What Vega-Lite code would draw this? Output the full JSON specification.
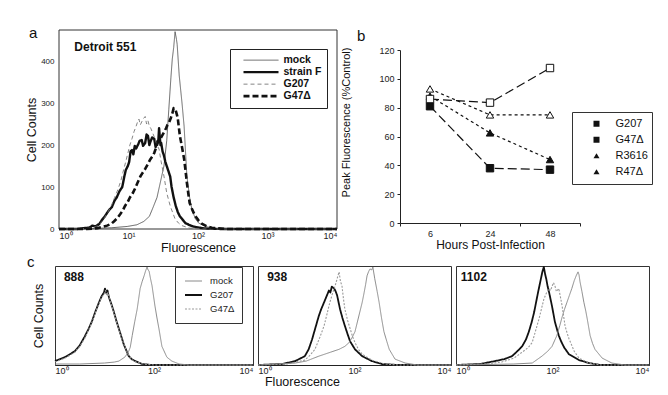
{
  "$schema": "https://vega.github.io/schema/vega-lite/v6.json",
  "autosize": {"type": "pad"},
  "padding": {"left": 25, "top": 25, "right": 0, "bottom": 0},
  "background": "white",
  "spacing": 0,
  "config": {
    "font": "Liberation Sans",
    "view": {"stroke": "#333", "strokeWidth": 1},
    "axis": {"grid": false, "domainColor": "#222", "tickColor": "#222", "labelColor": "#222", "titleColor": "#111", "titleFontWeight": "normal", "labelFont": "Liberation Sans", "titleFont": "Liberation Sans"},
    "title": {"fontWeight": "normal", "font": "Liberation Sans", "color": "#111"},
    "legend": {"labelFont": "Liberation Sans"}
  },
  "datasets": {
    "histA": [
      {"series":"mock","logF":0,"count":0},{"series":"mock","logF":0.47,"count":1},{"series":"mock","logF":0.76,"count":3},{"series":"mock","logF":0.98,"count":6},{"series":"mock","logF":1.12,"count":10},{"series":"mock","logF":1.22,"count":18},{"series":"mock","logF":1.30,"count":30},{"series":"mock","logF":1.35,"count":50},{"series":"mock","logF":1.41,"count":75},{"series":"mock","logF":1.47,"count":120},{"series":"mock","logF":1.51,"count":150},{"series":"mock","logF":1.55,"count":210},{"series":"mock","logF":1.58,"count":285},{"series":"mock","logF":1.61,"count":360},{"series":"mock","logF":1.63,"count":405},{"series":"mock","logF":1.65,"count":432},{"series":"mock","logF":1.67,"count":470},{"series":"mock","logF":1.69,"count":452},{"series":"mock","logF":1.70,"count":440},{"series":"mock","logF":1.73,"count":365},{"series":"mock","logF":1.77,"count":300},{"series":"mock","logF":1.80,"count":245},{"series":"mock","logF":1.84,"count":126},{"series":"mock","logF":1.88,"count":75},{"series":"mock","logF":1.91,"count":48},{"series":"mock","logF":1.96,"count":25},{"series":"mock","logF":2.01,"count":14},{"series":"mock","logF":2.13,"count":5},{"series":"mock","logF":2.27,"count":1},{"series":"mock","logF":2.5,"count":0},{"series":"mock","logF":4,"count":0},
      {"series":"strain F","logF":0,"count":0},{"series":"strain F","logF":0.26,"count":0},{"series":"strain F","logF":0.35,"count":2},{"series":"strain F","logF":0.43,"count":3},{"series":"strain F","logF":0.48,"count":8},{"series":"strain F","logF":0.52,"count":6},{"series":"strain F","logF":0.58,"count":12},{"series":"strain F","logF":0.62,"count":22},{"series":"strain F","logF":0.66,"count":30},{"series":"strain F","logF":0.69,"count":38},{"series":"strain F","logF":0.72,"count":45},{"series":"strain F","logF":0.76,"count":52},{"series":"strain F","logF":0.80,"count":68},{"series":"strain F","logF":0.83,"count":75},{"series":"strain F","logF":0.87,"count":90},{"series":"strain F","logF":0.91,"count":100},{"series":"strain F","logF":0.94,"count":125},{"series":"strain F","logF":0.96,"count":140},{"series":"strain F","logF":0.99,"count":150},{"series":"strain F","logF":1.01,"count":160},{"series":"strain F","logF":1.03,"count":185},{"series":"strain F","logF":1.05,"count":188},{"series":"strain F","logF":1.07,"count":178},{"series":"strain F","logF":1.09,"count":198},{"series":"strain F","logF":1.11,"count":192},{"series":"strain F","logF":1.14,"count":202},{"series":"strain F","logF":1.16,"count":210},{"series":"strain F","logF":1.19,"count":212},{"series":"strain F","logF":1.21,"count":198},{"series":"strain F","logF":1.24,"count":205},{"series":"strain F","logF":1.26,"count":225},{"series":"strain F","logF":1.28,"count":222},{"series":"strain F","logF":1.30,"count":200},{"series":"strain F","logF":1.32,"count":210},{"series":"strain F","logF":1.34,"count":218},{"series":"strain F","logF":1.37,"count":215},{"series":"strain F","logF":1.39,"count":195},{"series":"strain F","logF":1.41,"count":208},{"series":"strain F","logF":1.43,"count":212},{"series":"strain F","logF":1.44,"count":240},{"series":"strain F","logF":1.46,"count":200},{"series":"strain F","logF":1.47,"count":205},{"series":"strain F","logF":1.49,"count":185},{"series":"strain F","logF":1.51,"count":175},{"series":"strain F","logF":1.53,"count":160},{"series":"strain F","logF":1.55,"count":150},{"series":"strain F","logF":1.58,"count":135},{"series":"strain F","logF":1.60,"count":125},{"series":"strain F","logF":1.62,"count":100},{"series":"strain F","logF":1.65,"count":75},{"series":"strain F","logF":1.68,"count":55},{"series":"strain F","logF":1.71,"count":40},{"series":"strain F","logF":1.74,"count":30},{"series":"strain F","logF":1.78,"count":22},{"series":"strain F","logF":1.82,"count":14},{"series":"strain F","logF":1.87,"count":10},{"series":"strain F","logF":1.93,"count":6},{"series":"strain F","logF":1.99,"count":4},{"series":"strain F","logF":2.06,"count":2},{"series":"strain F","logF":2.13,"count":1},{"series":"strain F","logF":2.35,"count":0},{"series":"strain F","logF":4,"count":0},
      {"series":"G207","logF":0,"count":0},{"series":"G207","logF":0.3,"count":0},{"series":"G207","logF":0.43,"count":2},{"series":"G207","logF":0.52,"count":5},{"series":"G207","logF":0.58,"count":10},{"series":"G207","logF":0.62,"count":18},{"series":"G207","logF":0.66,"count":28},{"series":"G207","logF":0.71,"count":42},{"series":"G207","logF":0.76,"count":58},{"series":"G207","logF":0.80,"count":75},{"series":"G207","logF":0.85,"count":95},{"series":"G207","logF":0.89,"count":115},{"series":"G207","logF":0.92,"count":135},{"series":"G207","logF":0.96,"count":160},{"series":"G207","logF":0.99,"count":180},{"series":"G207","logF":1.02,"count":200},{"series":"G207","logF":1.05,"count":215},{"series":"G207","logF":1.08,"count":232},{"series":"G207","logF":1.11,"count":245},{"series":"G207","logF":1.13,"count":255},{"series":"G207","logF":1.15,"count":262},{"series":"G207","logF":1.17,"count":248},{"series":"G207","logF":1.19,"count":255},{"series":"G207","logF":1.21,"count":262},{"series":"G207","logF":1.24,"count":268},{"series":"G207","logF":1.26,"count":250},{"series":"G207","logF":1.28,"count":258},{"series":"G207","logF":1.30,"count":245},{"series":"G207","logF":1.32,"count":240},{"series":"G207","logF":1.35,"count":228},{"series":"G207","logF":1.38,"count":215},{"series":"G207","logF":1.41,"count":200},{"series":"G207","logF":1.44,"count":190},{"series":"G207","logF":1.47,"count":160},{"series":"G207","logF":1.51,"count":126},{"series":"G207","logF":1.55,"count":86},{"series":"G207","logF":1.60,"count":55},{"series":"G207","logF":1.67,"count":24},{"series":"G207","logF":1.72,"count":14},{"series":"G207","logF":1.77,"count":8},{"series":"G207","logF":1.88,"count":2},{"series":"G207","logF":2.06,"count":0},{"series":"G207","logF":4,"count":0},
      {"series":"G47Δ","logF":0,"count":0},{"series":"G47Δ","logF":0.4,"count":0},{"series":"G47Δ","logF":0.55,"count":2},{"series":"G47Δ","logF":0.62,"count":5},{"series":"G47Δ","logF":0.69,"count":8},{"series":"G47Δ","logF":0.75,"count":12},{"series":"G47Δ","logF":0.79,"count":18},{"series":"G47Δ","logF":0.84,"count":26},{"series":"G47Δ","logF":0.88,"count":35},{"series":"G47Δ","logF":0.92,"count":45},{"series":"G47Δ","logF":0.95,"count":55},{"series":"G47Δ","logF":0.99,"count":65},{"series":"G47Δ","logF":1.02,"count":75},{"series":"G47Δ","logF":1.06,"count":85},{"series":"G47Δ","logF":1.09,"count":95},{"series":"G47Δ","logF":1.13,"count":110},{"series":"G47Δ","logF":1.17,"count":125},{"series":"G47Δ","logF":1.20,"count":133},{"series":"G47Δ","logF":1.24,"count":143},{"series":"G47Δ","logF":1.28,"count":155},{"series":"G47Δ","logF":1.31,"count":165},{"series":"G47Δ","logF":1.34,"count":172},{"series":"G47Δ","logF":1.37,"count":181},{"series":"G47Δ","logF":1.40,"count":195},{"series":"G47Δ","logF":1.42,"count":205},{"series":"G47Δ","logF":1.45,"count":212},{"series":"G47Δ","logF":1.48,"count":221},{"series":"G47Δ","logF":1.51,"count":230},{"series":"G47Δ","logF":1.54,"count":240},{"series":"G47Δ","logF":1.56,"count":248},{"series":"G47Δ","logF":1.58,"count":252},{"series":"G47Δ","logF":1.61,"count":265},{"series":"G47Δ","logF":1.63,"count":275},{"series":"G47Δ","logF":1.65,"count":288},{"series":"G47Δ","logF":1.67,"count":285},{"series":"G47Δ","logF":1.68,"count":282},{"series":"G47Δ","logF":1.70,"count":270},{"series":"G47Δ","logF":1.71,"count":262},{"series":"G47Δ","logF":1.74,"count":221},{"series":"G47Δ","logF":1.77,"count":195},{"series":"G47Δ","logF":1.80,"count":167},{"series":"G47Δ","logF":1.82,"count":140},{"series":"G47Δ","logF":1.84,"count":110},{"series":"G47Δ","logF":1.86,"count":85},{"series":"G47Δ","logF":1.88,"count":62},{"series":"G47Δ","logF":1.92,"count":45},{"series":"G47Δ","logF":1.96,"count":31},{"series":"G47Δ","logF":2.01,"count":20},{"series":"G47Δ","logF":2.06,"count":12},{"series":"G47Δ","logF":2.13,"count":6},{"series":"G47Δ","logF":2.20,"count":3},{"series":"G47Δ","logF":2.42,"count":0},{"series":"G47Δ","logF":4,"count":0}
    ],
    "peak": [
      {"series":"G207","hours":6,"value":81},{"series":"G207","hours":24,"value":38},{"series":"G207","hours":48,"value":37},
      {"series":"G47Δ","hours":6,"value":86},{"series":"G47Δ","hours":24,"value":83.5},{"series":"G47Δ","hours":48,"value":107.5},
      {"series":"R3616","hours":6,"value":88},{"series":"R3616","hours":24,"value":62.5},{"series":"R3616","hours":48,"value":44},
      {"series":"R47Δ","hours":6,"value":93},{"series":"R47Δ","hours":24,"value":75},{"series":"R47Δ","hours":48,"value":75}
    ],
    "histC": [
      {"panel":"888","series":"G207","logF":0,"count":4},{"panel":"888","series":"G207","logF":0.1,"count":6},{"panel":"888","series":"G207","logF":0.2,"count":8},{"panel":"888","series":"G207","logF":0.3,"count":11},{"panel":"888","series":"G207","logF":0.4,"count":14},{"panel":"888","series":"G207","logF":0.5,"count":20},{"panel":"888","series":"G207","logF":0.6,"count":29},{"panel":"888","series":"G207","logF":0.68,"count":37},{"panel":"888","series":"G207","logF":0.75,"count":45},{"panel":"888","series":"G207","logF":0.82,"count":55},{"panel":"888","series":"G207","logF":0.89,"count":64},{"panel":"888","series":"G207","logF":0.94,"count":70},{"panel":"888","series":"G207","logF":0.99,"count":74},{"panel":"888","series":"G207","logF":1.01,"count":78},{"panel":"888","series":"G207","logF":1.04,"count":73},{"panel":"888","series":"G207","logF":1.06,"count":76},{"panel":"888","series":"G207","logF":1.09,"count":69},{"panel":"888","series":"G207","logF":1.14,"count":62},{"panel":"888","series":"G207","logF":1.19,"count":54},{"panel":"888","series":"G207","logF":1.24,"count":45},{"panel":"888","series":"G207","logF":1.29,"count":37},{"panel":"888","series":"G207","logF":1.34,"count":29},{"panel":"888","series":"G207","logF":1.39,"count":21},{"panel":"888","series":"G207","logF":1.44,"count":15},{"panel":"888","series":"G207","logF":1.49,"count":9},{"panel":"888","series":"G207","logF":1.55,"count":6},{"panel":"888","series":"G207","logF":1.62,"count":4},{"panel":"888","series":"G207","logF":1.76,"count":1},{"panel":"888","series":"G207","logF":1.96,"count":0},{"panel":"888","series":"G207","logF":4,"count":0},
      {"panel":"888","series":"G47Δ","logF":0,"count":3},{"panel":"888","series":"G47Δ","logF":0.1,"count":5},{"panel":"888","series":"G47Δ","logF":0.2,"count":7},{"panel":"888","series":"G47Δ","logF":0.3,"count":10},{"panel":"888","series":"G47Δ","logF":0.4,"count":13},{"panel":"888","series":"G47Δ","logF":0.5,"count":19},{"panel":"888","series":"G47Δ","logF":0.6,"count":27},{"panel":"888","series":"G47Δ","logF":0.68,"count":36},{"panel":"888","series":"G47Δ","logF":0.75,"count":44},{"panel":"888","series":"G47Δ","logF":0.82,"count":54},{"panel":"888","series":"G47Δ","logF":0.89,"count":63},{"panel":"888","series":"G47Δ","logF":0.94,"count":69},{"panel":"888","series":"G47Δ","logF":0.99,"count":72},{"panel":"888","series":"G47Δ","logF":1.02,"count":76},{"panel":"888","series":"G47Δ","logF":1.05,"count":71},{"panel":"888","series":"G47Δ","logF":1.07,"count":74},{"panel":"888","series":"G47Δ","logF":1.10,"count":67},{"panel":"888","series":"G47Δ","logF":1.15,"count":60},{"panel":"888","series":"G47Δ","logF":1.20,"count":52},{"panel":"888","series":"G47Δ","logF":1.25,"count":43},{"panel":"888","series":"G47Δ","logF":1.30,"count":35},{"panel":"888","series":"G47Δ","logF":1.35,"count":27},{"panel":"888","series":"G47Δ","logF":1.40,"count":20},{"panel":"888","series":"G47Δ","logF":1.45,"count":14},{"panel":"888","series":"G47Δ","logF":1.50,"count":9},{"panel":"888","series":"G47Δ","logF":1.56,"count":5},{"panel":"888","series":"G47Δ","logF":1.64,"count":3},{"panel":"888","series":"G47Δ","logF":1.78,"count":1},{"panel":"888","series":"G47Δ","logF":2.0,"count":0},{"panel":"888","series":"G47Δ","logF":4,"count":0},
      {"panel":"888","series":"mock","logF":0,"count":1},{"panel":"888","series":"mock","logF":0.5,"count":1},{"panel":"888","series":"mock","logF":1.0,"count":2},{"panel":"888","series":"mock","logF":1.2,"count":3},{"panel":"888","series":"mock","logF":1.29,"count":4},{"panel":"888","series":"mock","logF":1.41,"count":8},{"panel":"888","series":"mock","logF":1.48,"count":13},{"panel":"888","series":"mock","logF":1.52,"count":18},{"panel":"888","series":"mock","logF":1.56,"count":30},{"panel":"888","series":"mock","logF":1.61,"count":44},{"panel":"888","series":"mock","logF":1.66,"count":57},{"panel":"888","series":"mock","logF":1.72,"count":78},{"panel":"888","series":"mock","logF":1.76,"count":85},{"panel":"888","series":"mock","logF":1.80,"count":91},{"panel":"888","series":"mock","logF":1.83,"count":96},{"panel":"888","series":"mock","logF":1.86,"count":100},{"panel":"888","series":"mock","logF":1.88,"count":97},{"panel":"888","series":"mock","logF":1.90,"count":96},{"panel":"888","series":"mock","logF":1.93,"count":88},{"panel":"888","series":"mock","logF":1.96,"count":81},{"panel":"888","series":"mock","logF":2.02,"count":60},{"panel":"888","series":"mock","logF":2.06,"count":48},{"panel":"888","series":"mock","logF":2.10,"count":37},{"panel":"888","series":"mock","logF":2.16,"count":19},{"panel":"888","series":"mock","logF":2.26,"count":8},{"panel":"888","series":"mock","logF":2.36,"count":4},{"panel":"888","series":"mock","logF":2.51,"count":1},{"panel":"888","series":"mock","logF":2.7,"count":0},{"panel":"888","series":"mock","logF":4,"count":0},
      {"panel":"938","series":"G207","logF":0,"count":0},{"panel":"938","series":"G207","logF":0.5,"count":1},{"panel":"938","series":"G207","logF":0.77,"count":4},{"panel":"938","series":"G207","logF":0.97,"count":9},{"panel":"938","series":"G207","logF":1.05,"count":16},{"panel":"938","series":"G207","logF":1.12,"count":26},{"panel":"938","series":"G207","logF":1.19,"count":38},{"panel":"938","series":"G207","logF":1.26,"count":50},{"panel":"938","series":"G207","logF":1.31,"count":57},{"panel":"938","series":"G207","logF":1.37,"count":64},{"panel":"938","series":"G207","logF":1.42,"count":70},{"panel":"938","series":"G207","logF":1.47,"count":76},{"panel":"938","series":"G207","logF":1.50,"count":74},{"panel":"938","series":"G207","logF":1.53,"count":80},{"panel":"938","series":"G207","logF":1.58,"count":78},{"panel":"938","series":"G207","logF":1.61,"count":75},{"panel":"938","series":"G207","logF":1.64,"count":71},{"panel":"938","series":"G207","logF":1.70,"count":57},{"panel":"938","series":"G207","logF":1.75,"count":48},{"panel":"938","series":"G207","logF":1.80,"count":40},{"panel":"938","series":"G207","logF":1.86,"count":31},{"panel":"938","series":"G207","logF":1.91,"count":24},{"panel":"938","series":"G207","logF":2.01,"count":16},{"panel":"938","series":"G207","logF":2.16,"count":9},{"panel":"938","series":"G207","logF":2.36,"count":4},{"panel":"938","series":"G207","logF":2.57,"count":1},{"panel":"938","series":"G207","logF":2.9,"count":0},{"panel":"938","series":"G207","logF":4,"count":0},
      {"panel":"938","series":"G47Δ","logF":0,"count":0},{"panel":"938","series":"G47Δ","logF":0.6,"count":1},{"panel":"938","series":"G47Δ","logF":0.97,"count":5},{"panel":"938","series":"G47Δ","logF":1.08,"count":10},{"panel":"938","series":"G47Δ","logF":1.18,"count":16},{"panel":"938","series":"G47Δ","logF":1.28,"count":28},{"panel":"938","series":"G47Δ","logF":1.37,"count":40},{"panel":"938","series":"G47Δ","logF":1.43,"count":52},{"panel":"938","series":"G47Δ","logF":1.49,"count":64},{"panel":"938","series":"G47Δ","logF":1.55,"count":74},{"panel":"938","series":"G47Δ","logF":1.60,"count":81},{"panel":"938","series":"G47Δ","logF":1.64,"count":88},{"panel":"938","series":"G47Δ","logF":1.68,"count":95},{"panel":"938","series":"G47Δ","logF":1.71,"count":85},{"panel":"938","series":"G47Δ","logF":1.74,"count":81},{"panel":"938","series":"G47Δ","logF":1.77,"count":68},{"panel":"938","series":"G47Δ","logF":1.80,"count":57},{"panel":"938","series":"G47Δ","logF":1.86,"count":45},{"panel":"938","series":"G47Δ","logF":1.91,"count":37},{"panel":"938","series":"G47Δ","logF":1.96,"count":29},{"panel":"938","series":"G47Δ","logF":2.01,"count":23},{"panel":"938","series":"G47Δ","logF":2.08,"count":16},{"panel":"938","series":"G47Δ","logF":2.16,"count":11},{"panel":"938","series":"G47Δ","logF":2.36,"count":5},{"panel":"938","series":"G47Δ","logF":2.63,"count":1},{"panel":"938","series":"G47Δ","logF":2.9,"count":0},{"panel":"938","series":"G47Δ","logF":4,"count":0},
      {"panel":"938","series":"mock","logF":0,"count":0},{"panel":"938","series":"mock","logF":0.77,"count":2},{"panel":"938","series":"mock","logF":1.0,"count":4},{"panel":"938","series":"mock","logF":1.26,"count":9},{"panel":"938","series":"mock","logF":1.5,"count":13},{"panel":"938","series":"mock","logF":1.68,"count":16},{"panel":"938","series":"mock","logF":1.8,"count":19},{"panel":"938","series":"mock","logF":1.89,"count":23},{"panel":"938","series":"mock","logF":1.95,"count":28},{"panel":"938","series":"mock","logF":2.01,"count":34},{"panel":"938","series":"mock","logF":2.06,"count":44},{"panel":"938","series":"mock","logF":2.11,"count":54},{"panel":"938","series":"mock","logF":2.16,"count":64},{"panel":"938","series":"mock","logF":2.20,"count":74},{"panel":"938","series":"mock","logF":2.23,"count":82},{"panel":"938","series":"mock","logF":2.26,"count":91},{"panel":"938","series":"mock","logF":2.29,"count":95},{"panel":"938","series":"mock","logF":2.32,"count":98},{"panel":"938","series":"mock","logF":2.36,"count":97},{"panel":"938","series":"mock","logF":2.38,"count":100},{"panel":"938","series":"mock","logF":2.42,"count":88},{"panel":"938","series":"mock","logF":2.47,"count":75},{"panel":"938","series":"mock","logF":2.51,"count":64},{"panel":"938","series":"mock","logF":2.56,"count":48},{"panel":"938","series":"mock","logF":2.61,"count":34},{"panel":"938","series":"mock","logF":2.67,"count":24},{"panel":"938","series":"mock","logF":2.72,"count":16},{"panel":"938","series":"mock","logF":2.84,"count":6},{"panel":"938","series":"mock","logF":3.05,"count":2},{"panel":"938","series":"mock","logF":3.3,"count":0},{"panel":"938","series":"mock","logF":4,"count":0},
      {"panel":"1102","series":"G207","logF":0,"count":0},{"panel":"1102","series":"G207","logF":0.5,"count":1},{"panel":"1102","series":"G207","logF":0.81,"count":4},{"panel":"1102","series":"G207","logF":1.0,"count":6},{"panel":"1102","series":"G207","logF":1.16,"count":9},{"panel":"1102","series":"G207","logF":1.27,"count":14},{"panel":"1102","series":"G207","logF":1.37,"count":19},{"panel":"1102","series":"G207","logF":1.45,"count":26},{"panel":"1102","series":"G207","logF":1.51,"count":34},{"panel":"1102","series":"G207","logF":1.57,"count":44},{"panel":"1102","series":"G207","logF":1.62,"count":54},{"panel":"1102","series":"G207","logF":1.66,"count":64},{"panel":"1102","series":"G207","logF":1.70,"count":74},{"panel":"1102","series":"G207","logF":1.73,"count":81},{"panel":"1102","series":"G207","logF":1.76,"count":88},{"panel":"1102","series":"G207","logF":1.79,"count":95},{"panel":"1102","series":"G207","logF":1.82,"count":100},{"panel":"1102","series":"G207","logF":1.85,"count":92},{"panel":"1102","series":"G207","logF":1.87,"count":88},{"panel":"1102","series":"G207","logF":1.90,"count":80},{"panel":"1102","series":"G207","logF":1.93,"count":74},{"panel":"1102","series":"G207","logF":1.96,"count":67},{"panel":"1102","series":"G207","logF":1.99,"count":60},{"panel":"1102","series":"G207","logF":2.02,"count":52},{"panel":"1102","series":"G207","logF":2.05,"count":44},{"panel":"1102","series":"G207","logF":2.09,"count":37},{"panel":"1102","series":"G207","logF":2.13,"count":30},{"panel":"1102","series":"G207","logF":2.18,"count":24},{"panel":"1102","series":"G207","logF":2.24,"count":18},{"panel":"1102","series":"G207","logF":2.34,"count":11},{"panel":"1102","series":"G207","logF":2.55,"count":5},{"panel":"1102","series":"G207","logF":2.76,"count":2},{"panel":"1102","series":"G207","logF":3.0,"count":0},{"panel":"1102","series":"G207","logF":4,"count":0},
      {"panel":"1102","series":"G47Δ","logF":0,"count":0},{"panel":"1102","series":"G47Δ","logF":0.6,"count":1},{"panel":"1102","series":"G47Δ","logF":0.95,"count":3},{"panel":"1102","series":"G47Δ","logF":1.2,"count":7},{"panel":"1102","series":"G47Δ","logF":1.37,"count":13},{"panel":"1102","series":"G47Δ","logF":1.50,"count":18},{"panel":"1102","series":"G47Δ","logF":1.58,"count":23},{"panel":"1102","series":"G47Δ","logF":1.65,"count":35},{"panel":"1102","series":"G47Δ","logF":1.72,"count":47},{"panel":"1102","series":"G47Δ","logF":1.77,"count":57},{"panel":"1102","series":"G47Δ","logF":1.82,"count":67},{"panel":"1102","series":"G47Δ","logF":1.87,"count":73},{"panel":"1102","series":"G47Δ","logF":1.93,"count":78},{"panel":"1102","series":"G47Δ","logF":1.96,"count":76},{"panel":"1102","series":"G47Δ","logF":1.99,"count":80},{"panel":"1102","series":"G47Δ","logF":2.02,"count":84},{"panel":"1102","series":"G47Δ","logF":2.05,"count":81},{"panel":"1102","series":"G47Δ","logF":2.08,"count":75},{"panel":"1102","series":"G47Δ","logF":2.13,"count":78},{"panel":"1102","series":"G47Δ","logF":2.17,"count":68},{"panel":"1102","series":"G47Δ","logF":2.20,"count":60},{"panel":"1102","series":"G47Δ","logF":2.23,"count":50},{"panel":"1102","series":"G47Δ","logF":2.26,"count":40},{"panel":"1102","series":"G47Δ","logF":2.30,"count":33},{"panel":"1102","series":"G47Δ","logF":2.34,"count":27},{"panel":"1102","series":"G47Δ","logF":2.40,"count":20},{"panel":"1102","series":"G47Δ","logF":2.45,"count":14},{"panel":"1102","series":"G47Δ","logF":2.55,"count":7},{"panel":"1102","series":"G47Δ","logF":2.76,"count":2},{"panel":"1102","series":"G47Δ","logF":3.0,"count":0},{"panel":"1102","series":"G47Δ","logF":4,"count":0},
      {"panel":"1102","series":"mock","logF":0,"count":0},{"panel":"1102","series":"mock","logF":1.2,"count":1},{"panel":"1102","series":"mock","logF":1.58,"count":2},{"panel":"1102","series":"mock","logF":1.78,"count":9},{"panel":"1102","series":"mock","logF":1.90,"count":14},{"panel":"1102","series":"mock","logF":1.99,"count":19},{"panel":"1102","series":"mock","logF":2.09,"count":30},{"panel":"1102","series":"mock","logF":2.15,"count":40},{"panel":"1102","series":"mock","logF":2.20,"count":49},{"panel":"1102","series":"mock","logF":2.25,"count":57},{"panel":"1102","series":"mock","logF":2.30,"count":64},{"panel":"1102","series":"mock","logF":2.35,"count":71},{"panel":"1102","series":"mock","logF":2.40,"count":78},{"panel":"1102","series":"mock","logF":2.45,"count":86},{"panel":"1102","series":"mock","logF":2.49,"count":91},{"panel":"1102","series":"mock","logF":2.53,"count":95},{"panel":"1102","series":"mock","logF":2.55,"count":92},{"panel":"1102","series":"mock","logF":2.57,"count":85},{"panel":"1102","series":"mock","logF":2.61,"count":75},{"panel":"1102","series":"mock","logF":2.65,"count":64},{"panel":"1102","series":"mock","logF":2.69,"count":55},{"panel":"1102","series":"mock","logF":2.72,"count":47},{"panel":"1102","series":"mock","logF":2.78,"count":30},{"panel":"1102","series":"mock","logF":2.83,"count":22},{"panel":"1102","series":"mock","logF":2.88,"count":16},{"panel":"1102","series":"mock","logF":3.03,"count":7},{"panel":"1102","series":"mock","logF":3.23,"count":2},{"panel":"1102","series":"mock","logF":3.5,"count":0},{"panel":"1102","series":"mock","logF":4,"count":0}
    ]
  },
  "resolve": {
    "scale": {"color": "independent", "strokeDash": "independent", "strokeWidth": "independent", "shape": "independent", "fill": "independent"},
    "legend": {"color": "independent", "strokeDash": "independent", "strokeWidth": "independent", "shape": "independent", "fill": "independent"}
  },
  "vconcat": [
    {
      "bounds": "flush",
      "spacing": 63,
      "resolve": {
        "scale": {"color": "independent", "strokeDash": "independent", "strokeWidth": "independent", "shape": "independent", "fill": "independent"},
        "legend": {"color": "independent", "strokeDash": "independent", "strokeWidth": "independent", "shape": "independent", "fill": "independent"}
      },
      "hconcat": [
        {
          "width": 282, "height": 199,
          "view": {"stroke": null},
          "layer": [
            {
              "data": {"values": [{"frame": "border"}]},
              "mark": {"type": "rect", "fill": null, "stroke": "#333", "strokeWidth": 1},
              "encoding": {"x": {"datum": 0, "type": "quantitative"}, "x2": {"datum": 4}, "y": {"datum": 0, "type": "quantitative"}, "y2": {"datum": 474}}
            },
            {
              "data": {"name": "histA"},
              "mark": {"type": "line", "strokeJoin": "round"},
              "encoding": {
                "x": {"field": "logF", "type": "quantitative", "scale": {"domain": [0, 4], "nice": false, "zero": false, "range": [4, 282]},
                  "axis": {"values": [0, 1, 2, 3, 4], "labelExpr": "datum.value == 0 ? '10⁰' : datum.value == 1 ? '10¹' : datum.value == 2 ? '10²' : datum.value == 3 ? '10³' : '10⁴'", "domain": false, "labelFontSize": 9, "tickSize": 0, "labelPadding": 2, "title": "Fluorescence", "titleFontSize": 12.5, "titlePadding": 1}},
                "y": {"field": "count", "type": "quantitative", "scale": {"domain": [0, 474], "nice": false},
                  "axis": {"values": [0, 50, 100, 150, 200, 250, 300, 350, 400, 450], "offset": -4, "domain": false, "labelFontSize": 8, "tickSize": 0, "labelPadding": 5, "title": "Cell Counts", "titleFontSize": 12.5, "titlePadding": 2}},
                "color": {"field": "series", "type": "nominal", "scale": {"domain": ["mock", "strain F", "G207", "G47Δ"], "range": ["#555", "#111", "#777", "#111"]},
                  "legend": {"title": null, "orient": "none", "legendX": 175, "legendY": 19, "strokeColor": "#222", "padding": 5.5, "symbolType": "stroke", "symbolSize": 1225, "symbolOffset": 6.5, "labelOffset": 3.5, "clipHeight": 11.3, "rowPadding": 0, "labelFontSize": 10.5, "labelFontWeight": "bold", "labelColor": "#111"}},
                "strokeDash": {"field": "series", "type": "nominal", "scale": {"domain": ["mock", "strain F", "G207", "G47Δ"], "range": [[1, 0], [1, 0], [4, 3], [6, 3]]},
                  "legend": {"title": null, "orient": "none", "legendX": 175, "legendY": 19, "strokeColor": "#222", "padding": 5.5, "symbolType": "stroke", "symbolSize": 1225, "symbolOffset": 6.5, "labelOffset": 3.5, "clipHeight": 11.3, "rowPadding": 0, "labelFontSize": 10.5, "labelFontWeight": "bold", "labelColor": "#111"}},
                "strokeWidth": {"field": "series", "type": "nominal", "scale": {"type": "ordinal", "domain": ["mock", "strain F", "G207", "G47Δ"], "range": [0.9, 2.4, 0.9, 2.6]},
                  "legend": {"title": null, "orient": "none", "legendX": 175, "legendY": 19, "strokeColor": "#222", "padding": 5.5, "symbolType": "stroke", "symbolSize": 1225, "symbolOffset": 6.5, "labelOffset": 3.5, "clipHeight": 11.3, "rowPadding": 0, "labelFontSize": 10.5, "labelFontWeight": "bold", "labelColor": "#111"}}
              }
            },
            {
              "data": {"values": [{"label": "Detroit 551"}]},
              "mark": {"type": "text", "align": "left", "baseline": "middle", "fontSize": 12, "fontWeight": "bold", "color": "#111"},
              "encoding": {"text": {"field": "label"}, "x": {"datum": 0.22}, "y": {"datum": 433}}
            },
            {
              "data": {"values": [{"label": "a"}]},
              "mark": {"type": "text", "align": "left", "baseline": "alphabetic", "fontSize": 15, "color": "#111"},
              "encoding": {"text": {"field": "label"}, "x": {"datum": -0.43}, "y": {"datum": 455}}
            }
          ]
        },
        {
          "width": 180, "height": 193,
          "view": {"stroke": null},
          "title": {"text": "b", "frame": "group", "anchor": "start", "dx": -43, "dy": 14, "fontSize": 15, "offset": 0, "baseline": "top"},
          "data": {"name": "peak"},
          "encoding": {
            "x": {"field": "hours", "type": "ordinal", "bandPosition": 0.5, "scale": {"type": "band", "paddingInner": 0, "paddingOuter": 0},
              "axis": {"labelAngle": 0, "labelFontSize": 9, "tickBand": "extent", "tickSize": 3, "labelPadding": 3, "title": "Hours Post-Infection", "titleFontSize": 12, "titlePadding": 1}},
            "y": {"field": "value", "type": "quantitative", "scale": {"domain": [0, 120], "range": [193, 20], "nice": false},
              "axis": {"values": [0, 20, 40, 60, 80, 100, 120], "labelFontSize": 9, "tickSize": 3, "labelPadding": 3, "title": "Peak Fluorescence (%Control)", "titleFontSize": 11, "titlePadding": 27, "titleY": 92}}
          },
          "layer": [
            {
              "transform": [{"filter": {"field": "series", "oneOf": ["G207", "G47Δ"]}}],
              "mark": {"type": "line", "color": "#111", "strokeWidth": 1.2, "strokeDash": [9, 4]},
              "encoding": {"detail": {"field": "series", "type": "nominal"}}
            },
            {
              "transform": [{"filter": {"field": "series", "oneOf": ["R3616", "R47Δ"]}}],
              "mark": {"type": "line", "color": "#111", "strokeWidth": 1.2, "strokeDash": [3, 3]},
              "encoding": {"detail": {"field": "series", "type": "nominal"}}
            },
            {
              "transform": [{"filter": {"field": "series", "oneOf": ["G207", "R3616"]}}],
              "mark": {"type": "point", "filled": true, "fill": "#111", "stroke": "#111", "strokeWidth": 1, "size": 55, "opacity": 1},
              "encoding": {
                "shape": {"field": "series", "type": "nominal", "scale": {"domain": ["G207", "G47Δ", "R3616", "R47Δ"], "range": ["square", "square", "triangle-up", "triangle-up"]},
                  "legend": {"title": null, "orient": "none", "legendX": 172, "legendY": 82, "strokeColor": "#333", "padding": 4, "symbolSize": 36, "symbolOffset": 15, "labelOffset": 13.5, "clipHeight": 15.5, "rowPadding": 0, "labelFontSize": 11, "labelColor": "#111", "symbolStrokeColor": "#111", "symbolStrokeWidth": 1,
                    "encode": {"symbols": {
                      "shape": {"signal": "datum.value == 'G207' || datum.value == 'G47Δ' ? 'M-5.7,0H-2.3M-1,-1H1V1H-1ZM2,0H3.7M4.7,0H6.3' : 'M-5.7,0H-4.9M-4.1,0H-3.3M-2.5,0H-1.7M0,-1.2L1.2,1L-1.2,1ZM1.7,0H2.5M3.3,0H4.1M4.9,0H5.7'"},
                      "fill": {"signal": "datum.value == 'G207' || datum.value == 'R3616' ? '#111' : 'white'"},
                      "stroke": {"value": "#111"},
                      "strokeWidth": {"value": 1},
                      "opacity": {"value": 1}
                    }}}}
              }
            },
            {
              "transform": [{"filter": {"field": "series", "oneOf": ["G47Δ", "R47Δ"]}}],
              "mark": {"type": "point", "filled": true, "fill": "white", "stroke": "#111", "strokeWidth": 1, "size": 55, "opacity": 1},
              "encoding": {
                "shape": {"field": "series", "type": "nominal", "scale": {"domain": ["G207", "G47Δ", "R3616", "R47Δ"], "range": ["square", "square", "triangle-up", "triangle-up"]},
                  "legend": {"title": null, "orient": "none", "legendX": 172, "legendY": 82, "strokeColor": "#333", "padding": 4, "symbolSize": 36, "symbolOffset": 15, "labelOffset": 13.5, "clipHeight": 15.5, "rowPadding": 0, "labelFontSize": 11, "labelColor": "#111", "symbolStrokeColor": "#111", "symbolStrokeWidth": 1,
                    "encode": {"symbols": {
                      "shape": {"signal": "datum.value == 'G207' || datum.value == 'G47Δ' ? 'M-5.7,0H-2.3M-1,-1H1V1H-1ZM2,0H3.7M4.7,0H6.3' : 'M-5.7,0H-4.9M-4.1,0H-3.3M-2.5,0H-1.7M0,-1.2L1.2,1L-1.2,1ZM1.7,0H2.5M3.3,0H4.1M4.9,0H5.7'"},
                      "fill": {"signal": "datum.value == 'G207' || datum.value == 'R3616' ? '#111' : 'white'"},
                      "stroke": {"value": "#111"},
                      "strokeWidth": {"value": 1},
                      "opacity": {"value": 1}
                    }}}}
              }
            }
          ]
        }
      ]
    },
    {
      "bounds": "flush",
      "spacing": 5,
      "resolve": {
        "scale": {"color": "independent", "strokeDash": "independent", "strokeWidth": "independent", "shape": "independent", "fill": "independent"},
        "legend": {"color": "independent", "strokeDash": "independent", "strokeWidth": "independent", "shape": "independent", "fill": "independent"}
      },
      "hconcat": [
        {
          "width": 198, "height": 99,
          "view": {"stroke": "#333"},
          "layer": [
            {
              "data": {"name": "histC"},
              "transform": [{"filter": "datum.panel == '888'"}],
              "mark": {"type": "line", "strokeJoin": "round"},
              "encoding": {
                "x": {"field": "logF", "type": "quantitative", "scale": {"domain": [0, 4], "nice": false, "zero": false},
                  "axis": {"values": [0, 2, 4], "labelExpr": "datum.value == 0 ? '10⁰' : datum.value == 2 ? '10²' : '10⁴'", "labelFlush": true, "labelFontSize": 9, "tickSize": 0, "labelPadding": 1, "title": null}},
                "y": {"field": "count", "type": "quantitative", "scale": {"domain": [0, 101], "nice": false},
                  "axis": {"labels": false, "ticks": false, "domain": false, "title": "Cell Counts", "titleFontSize": 12.5, "titlePadding": 10}},
                "color": {"field": "series", "type": "nominal", "scale": {"domain": ["mock", "G207", "G47Δ"], "range": ["#8a8a8a", "#111", "#9a9a9a"]},
                  "legend": {"title": null, "orient": "none", "legendX": 120, "legendY": 1, "strokeColor": "#333", "padding": 7, "symbolType": "stroke", "symbolSize": 289, "symbolOffset": 2, "labelOffset": 7, "clipHeight": 14, "rowPadding": 0, "labelFontSize": 9.5, "labelColor": "#222"}},
                "strokeDash": {"field": "series", "type": "nominal", "scale": {"domain": ["mock", "G207", "G47Δ"], "range": [[1, 0], [1, 0], [2, 1.5]]},
                  "legend": {"title": null, "orient": "none", "legendX": 120, "legendY": 1, "strokeColor": "#333", "padding": 7, "symbolType": "stroke", "symbolSize": 289, "symbolOffset": 2, "labelOffset": 7, "clipHeight": 14, "rowPadding": 0, "labelFontSize": 9.5, "labelColor": "#222"}},
                "strokeWidth": {"field": "series", "type": "nominal", "scale": {"type": "ordinal", "domain": ["mock", "G207", "G47Δ"], "range": [1, 1.8, 1.1]},
                  "legend": {"title": null, "orient": "none", "legendX": 120, "legendY": 1, "strokeColor": "#333", "padding": 7, "symbolType": "stroke", "symbolSize": 289, "symbolOffset": 2, "labelOffset": 7, "clipHeight": 14, "rowPadding": 0, "labelFontSize": 9.5, "labelColor": "#222"}}
              }
            },
            {
              "data": {"values": [{"label": "888"}]},
              "mark": {"type": "text", "align": "left", "baseline": "middle", "fontSize": 12, "fontWeight": "bold", "color": "#111"},
              "encoding": {"text": {"field": "label"}, "x": {"datum": 0.18}, "y": {"datum": 90}}
            },
            {
              "data": {"values": [{"label": "c"}]},
              "mark": {"type": "text", "align": "left", "baseline": "alphabetic", "fontSize": 15, "color": "#111"},
              "encoding": {"text": {"field": "label"}, "x": {"datum": -0.566}, "y": {"datum": 100}}
            }
          ]
        },
        {
          "width": 193, "height": 99,
          "view": {"stroke": "#333"},
          "layer": [
            {
              "data": {"name": "histC"},
              "transform": [{"filter": "datum.panel == '938'"}],
              "mark": {"type": "line", "strokeJoin": "round"},
              "encoding": {
                "x": {"field": "logF", "type": "quantitative", "scale": {"domain": [0, 4], "nice": false, "zero": false},
                  "axis": {"values": [0, 2, 4], "labelExpr": "datum.value == 0 ? '10⁰' : datum.value == 2 ? '10²' : '10⁴'", "labelFlush": true, "labelFontSize": 9, "tickSize": 0, "labelPadding": 1, "title": "Fluorescence", "titleFontSize": 12.5, "titleX": 44, "titleY": 16, "titleAlign": "center", "titleBaseline": "middle"}},
                "y": {"field": "count", "type": "quantitative", "scale": {"domain": [0, 101], "nice": false}, "axis": null},
                "color": {"field": "series", "type": "nominal", "scale": {"domain": ["mock", "G207", "G47Δ"], "range": ["#8a8a8a", "#111", "#9a9a9a"]}, "legend": null},
                "strokeDash": {"field": "series", "type": "nominal", "scale": {"domain": ["mock", "G207", "G47Δ"], "range": [[1, 0], [1, 0], [2, 1.5]]}, "legend": null},
                "strokeWidth": {"field": "series", "type": "nominal", "scale": {"type": "ordinal", "domain": ["mock", "G207", "G47Δ"], "range": [1, 1.8, 1.1]}, "legend": null}
              }
            },
            {
              "data": {"values": [{"label": "938"}]},
              "mark": {"type": "text", "align": "left", "baseline": "middle", "fontSize": 12, "fontWeight": "bold", "color": "#111"},
              "encoding": {"text": {"field": "label"}, "x": {"datum": 0.19}, "y": {"datum": 90}}
            }
          ]
        },
        {
          "width": 193, "height": 99,
          "view": {"stroke": "#333"},
          "layer": [
            {
              "data": {"name": "histC"},
              "transform": [{"filter": "datum.panel == '1102'"}],
              "mark": {"type": "line", "strokeJoin": "round"},
              "encoding": {
                "x": {"field": "logF", "type": "quantitative", "scale": {"domain": [0, 4], "nice": false, "zero": false},
                  "axis": {"values": [0, 2, 4], "labelExpr": "datum.value == 0 ? '10⁰' : datum.value == 2 ? '10²' : '10⁴'", "labelFlush": true, "labelFontSize": 9, "tickSize": 0, "labelPadding": 1, "title": null}},
                "y": {"field": "count", "type": "quantitative", "scale": {"domain": [0, 101], "nice": false}, "axis": null},
                "color": {"field": "series", "type": "nominal", "scale": {"domain": ["mock", "G207", "G47Δ"], "range": ["#8a8a8a", "#111", "#9a9a9a"]}, "legend": null},
                "strokeDash": {"field": "series", "type": "nominal", "scale": {"domain": ["mock", "G207", "G47Δ"], "range": [[1, 0], [1, 0], [2, 1.5]]}, "legend": null},
                "strokeWidth": {"field": "series", "type": "nominal", "scale": {"type": "ordinal", "domain": ["mock", "G207", "G47Δ"], "range": [1, 1.8, 1.1]}, "legend": null}
              }
            },
            {
              "data": {"values": [{"label": "1102"}]},
              "mark": {"type": "text", "align": "left", "baseline": "middle", "fontSize": 12, "fontWeight": "bold", "color": "#111"},
              "encoding": {"text": {"field": "label"}, "x": {"datum": 0.1}, "y": {"datum": 90}}
            }
          ]
        }
      ]
    }
  ]
}
